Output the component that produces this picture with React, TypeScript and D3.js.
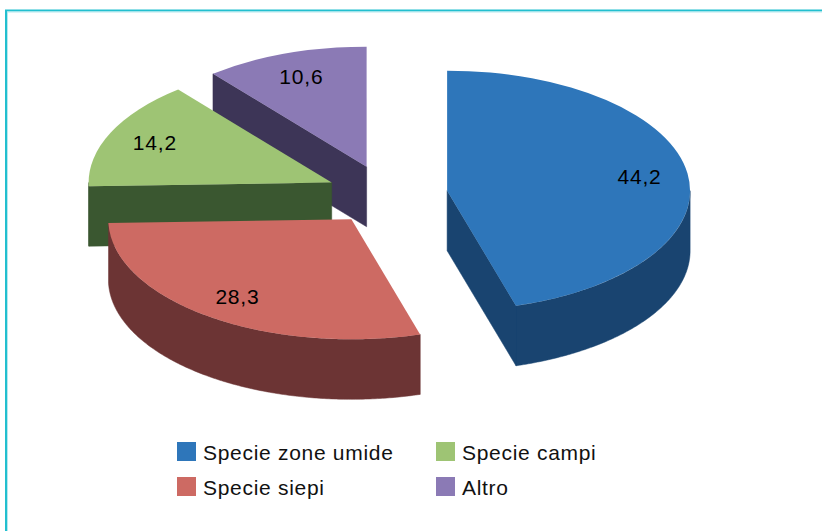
import * as d3 from 'd3'

const categories = ['Specie zone umide', 'Specie siepi', 'Specie campi', 'Altro']
const values = [44.2, 28.3, 14.2, 10.6]
const labels = ['44,2', '28,3', '14,2', '10,6']
const topColors = ['#2E76BA', '#CD6A63', '#9EC474', '#8B7AB5']
const sideColors = ['#194470', '#6C3434', '#3A5730', '#3D3557']

type Slice = d3.PieArcDatum<number>

export default function App() {
  const width = 822
  const height = 531

  // pie geometry (ellipse seen from above, extruded down by depth)
  const cx = 387
  const cy = 195
  const rx = 243
  const ry = 120
  const depth = 60
  const explode = 0.25
  const labelR = 0.8

  const pie = d3.pie<number>().sort(null).value((d) => d)
  const slices = pie(values)

  const arc = d3.arc<Slice>().innerRadius(0).outerRadius(1)

  const pt = (a: number, ox: number, oy: number, dz = 0): [number, number] => [
    ox + rx * Math.sin(a),
    oy - ry * Math.cos(a) + dz,
  ]
  const line = d3.line()

  const centerOf = (s: Slice) => {
    const m = (s.startAngle + s.endAngle) / 2
    return [cx + explode * rx * Math.sin(m), cy - explode * ry * Math.cos(m)]
  }

  const wallPaths = (s: Slice) => {
    const [ox, oy] = centerOf(s)
    const out: string[] = []
    // outer wall, front half only
    const a0 = Math.max(s.startAngle, Math.PI / 2)
    const a1 = Math.min(s.endAngle, (3 * Math.PI) / 2)
    if (a1 > a0) {
      const angs = d3.range(a0, a1, 0.01).concat([a1])
      const top = angs.map((a) => pt(a, ox, oy))
      const bot = angs.slice().reverse().map((a) => pt(a, ox, oy, depth))
      out.push(line(top.concat(bot))! + 'Z')
    }
    // radial walls facing the viewer
    const radial = (a: number, normal: number) => {
      if (Math.cos(normal) < -1e-6) {
        const p = pt(a, ox, oy)
        out.push(
          line([
            [ox, oy],
            p,
            [p[0], p[1] + depth],
            [ox, oy + depth],
          ])! + 'Z'
        )
      }
    }
    radial(s.startAngle, s.startAngle - Math.PI / 2)
    radial(s.endAngle, s.endAngle + Math.PI / 2)
    return out
  }

  // back to front
  const order = d3.range(slices.length).sort((a, b) => centerOf(slices[a])[1] - centerOf(slices[b])[1])

  const legendX = [177, 436]
  const legendY = [442, 477]

  return (
    <svg
      width={width}
      height={height}
      style={{ position: 'absolute', left: 0, top: 0, background: '#fff' }}
      fontFamily="'Liberation Sans', Arial, sans-serif"
    >
      <path d={`M6,${height}V10.5H${width}`} fill="none" stroke="#22BFCF" strokeWidth={2} />
      <path d={`M7.5,${height}V12H${width}`} fill="none" stroke="#B5E8EE" strokeWidth={1} />

      {order.map((i) => {
        const s = slices[i]
        const [ox, oy] = centerOf(s)
        return (
          <g key={i}>
            {wallPaths(s).map((d, j) => (
              <path key={j} d={d} fill={sideColors[i]} stroke={sideColors[i]} strokeWidth={0.5} />
            ))}
            <path
              d={arc(s)!}
              transform={`translate(${ox},${oy}) scale(${rx},${ry})`}
              fill={topColors[i]}
            />
          </g>
        )
      })}

      {slices.map((s, i) => {
        const [ox, oy] = centerOf(s)
        const m = (s.startAngle + s.endAngle) / 2
        const [lx, ly] = [ox + labelR * rx * Math.sin(m), oy - labelR * ry * Math.cos(m)]
        return (
          <text
            key={i}
            x={lx}
            y={ly}
            dy="0.35em"
            textAnchor="middle"
            fontSize={21}
            letterSpacing={0.8}
            fill="#000"
          >
            {labels[i]}
          </text>
        )
      })}

      {categories.map((c, i) => {
        const x = legendX[Math.floor(i / 2)]
        const y = legendY[i % 2]
        return (
          <g key={c} transform={`translate(${x},${y})`}>
            <rect width={19} height={19} fill={topColors[i]} />
            <text x={26} y={18} fontSize={21} letterSpacing={0.7} fill="#111">
              {c}
            </text>
          </g>
        )
      })}
    </svg>
  )
}
